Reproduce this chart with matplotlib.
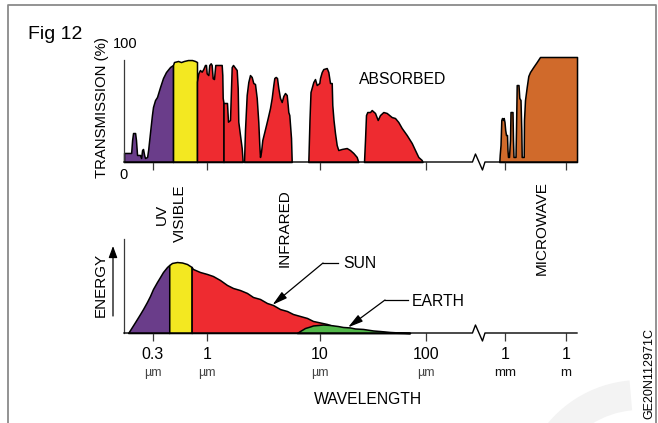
import numpy as np
import matplotlib
matplotlib.use("Agg")
import matplotlib.pyplot as plt
import matplotlib.transforms as mtransforms
from matplotlib.lines import Line2D
from matplotlib.patches import Wedge, FancyArrowPatch

plt.rcParams['font.family'] = ['Liberation Sans', 'DejaVu Sans']

# ---------------- data ----------------
# Atmospheric transmission (%) against wavelength (micrometres)
uv_wl = [0.157, 0.184, 0.188, 0.192, 0.201, 0.205, 0.210, 0.224, 0.230, 0.235,
         0.240, 0.246, 0.251, 0.263, 0.269, 0.281, 0.293, 0.300, 0.314, 0.328,
         0.351, 0.375, 0.401, 0.439, 0.469]
uv_trans = [8.6, 8.6, 21.0, 27.6, 27.6, 21.0, 6.7, 6.7, 3.8, 11.4,
            12.4, 6.7, 3.8, 4.8, 11.4, 28.6, 44.8, 52.4, 59.0, 61.9,
            71.4, 80.0, 85.7, 90.5, 92.4]

vis_wl = [0.469, 0.479, 0.524, 0.560, 0.598, 0.654, 0.716, 0.766, 0.800]
vis_trans = [92.4, 95.2, 96.2, 95.2, 96.2, 97.1, 97.1, 96.2, 95.2]

ir1_wl = [0.800, 0.823, 0.855, 0.888, 0.920, 0.956, 0.977, 0.993, 1.027, 1.048,
          1.078, 1.100, 1.123, 1.153, 1.184, 1.218, 1.349, 1.366, 1.377, 1.400]
ir1_trans = [76.5, 84.4, 87.6, 86.0, 88.5, 92.4, 92.4, 84.4, 82.8, 92.4,
             94.0, 92.4, 79.7, 79.0, 92.4, 92.4, 92.4, 82.8, 61.0, 56.2]

ir2_wl = [1.400, 1.503, 1.534, 1.598, 1.654, 1.699, 1.832, 1.869, 1.892, 1.959,
          2.028, 2.070]
ir2_trans = [56.2, 56.2, 38.4, 40.0, 90.4, 92.4, 87.6, 70.4, 38.4, 25.7, 13.3, 0.0]

ir3_wl = [2.126, 2.169, 2.245, 2.320, 2.401, 2.486, 2.569, 2.659, 2.754, 2.844,
          2.903, 2.944, 3.005, 3.086, 3.215, 3.328, 3.445, 3.610, 3.738, 3.862,
          3.942, 4.055, 4.164, 4.276, 4.426, 4.582, 4.734, 4.901, 5.074, 5.178,
          5.242, 5.350, 5.540, 5.619]
ir3_trans = [0.0, 30.5, 63.8, 76.2, 82.8, 81.0, 75.2, 74.3, 61.0, 38.1,
             16.2, 4.8, 9.5, 20.9, 28.6, 35.2, 41.9, 51.4, 61.0, 73.3,
             80.0, 81.0, 80.0, 70.4, 61.0, 57.1, 62.8, 65.7, 63.8, 54.3,
             47.6, 44.7, 22.8, 0.0]

ir4_wl = [7.881, 8.07, 8.24, 8.725, 9.03, 9.35, 9.86, 10.0, 10.38, 10.74,
          11.57, 11.98, 12.43, 12.90, 13.06, 13.41, 13.85, 14.37, 14.88, 16.02,
          17.86, 19.19, 20.62, 22.20, 22.98]
ir4_trans = [0.0, 40.0, 66.6, 76.2, 79.0, 73.3, 75.2, 80.0, 85.7, 88.5,
             89.5, 85.7, 75.2, 75.2, 54.3, 40.0, 27.6, 16.2, 11.4, 12.4,
             13.3, 11.4, 8.6, 4.8, 0.0]

ir5_wl = [26.01, 26.58, 27.16, 27.94, 29.64, 30.75, 33.03, 35.03, 36.81, 39.56,
          42.58, 47.47, 51.00, 54.79, 58.99, 65.77, 73.32, 78.76, 84.61, 91.08,
          92.68]
ir5_trans = [0.0, 20.9, 44.7, 47.6, 47.6, 49.5, 46.7, 40.0, 44.7, 47.6,
             46.7, 42.8, 41.9, 38.1, 32.4, 25.7, 18.1, 11.4, 4.8, 1.9, 0.0]

mw_wl = [777, 791, 820, 849, 876, 915, 944, 978, 1023, 1120,
         1254, 1327, 1404, 1573, 1762, 1865, 2338, 2475, 2619, 3285,
         3476, 3763, 4613, 5051, 5786, 6336, 6629, 8313, 8603, 9634,
         11680, 14000, 16970, 24660, 36250, 52680, 3.48e6]
mw_trans = [0.0, 6.7, 16.2, 40.0, 41.9, 40.0, 41.9, 38.1, 30.5, 25.7,
            25.7, 11.4, 4.8, 4.8, 21.0, 47.6, 47.6, 21.0, 4.8, 4.8,
            30.5, 73.3, 73.3, 61.0, 59.0, 30.5, 4.8, 4.8, 40.0, 59.0,
            71.4, 81.9, 85.7, 90.5, 95.2, 100.0, 100.0]

# Emitted energy (arbitrary units) against wavelength (micrometres)
sun_wl = [0.172, 0.1796, 0.201, 0.2245, 0.240, 0.262, 0.2805, 0.300, 0.328, 0.351,
          0.375, 0.410, 0.431, 0.458, 0.512, 0.5725, 0.640, 0.710, 0.731, 0.855,
          1.0, 1.13, 1.303, 1.503, 1.699, 1.959, 2.259, 2.553, 2.944, 3.396,
          3.838, 4.426, 5.105, 5.768, 6.653, 7.674, 8.670, 10.0, 11.64, 13.27,
          16.48, 20.48, 26.58, 36.81, 51.0, 70.6]
sun_energy = [0.0, 3.2, 11.7, 20.2, 25.5, 33.0, 39.4, 46.8, 54.3, 59.6,
              64.9, 70.2, 72.3, 74.5, 75.5, 75.0, 73.4, 70.2, 68.1, 64.9,
              62.8, 60.6, 56.4, 51.1, 47.9, 45.7, 42.6, 38.3, 36.2, 31.9,
              29.8, 25.5, 23.4, 20.2, 18.1, 16.0, 12.8, 11.2, 9.6, 7.4,
              5.3, 3.7, 2.1, 1.1, 0.3, 0.0]
sun_band_edges = [0.431, 0.710]          # UV | visible | infrared

earth_wl = [6.26, 6.653, 7.366, 8.155, 8.670, 9.60, 10.67, 12.43, 14.78, 16.48,
            19.19, 21.39, 25.45, 31.62, 36.81, 45.76, 56.84, 70.6]
earth_energy = [0.0, 2.1, 5.3, 6.9, 8.0, 8.5, 9.0, 8.5, 7.4, 6.4,
                5.9, 4.8, 4.3, 2.7, 2.1, 1.1, 0.5, 0.0]

tick_wl = [0.3, 1, 10, 100, 1000, 1e6]
tick_num = ['0.3', '1', '10', '100', '1', '1']
tick_unit = ['\u00b5m', '\u00b5m', '\u00b5m', '\u00b5m', 'mm', 'm']
break_wl = 316.0
sun_pointer_wl = 3.8
earth_pointer_wl = 18.4

# ---------------- colours ----------------
C_UV = '#6a3d8a'
C_VIS = '#f3e821'
C_IR = '#ee2b30'
C_MW = '#d06a2b'
C_EARTH = '#52b84a'

# ---------------- broken logarithmic wavelength scale ----------------
knot_log = np.array([-2.0, np.log10(0.3), 0.0, 1.0, 2.0, 2.5, 3.0, 6.0, 8.0])
knot_pos = np.array([1.0, 153.0, 207.0, 320.0, 426.0, 479.0, 505.0, 566.0, 606.7])


def wl_forward(w):
    w = np.asarray(w, dtype=float)
    return np.interp(np.log10(np.clip(w, 1e-12, None)), knot_log, knot_pos)


def wl_inverse(u):
    u = np.asarray(u, dtype=float)
    return 10.0 ** np.interp(u, knot_pos, knot_log)


W, H = 658, 423
fig = plt.figure(figsize=(W / 100, H / 100), dpi=100)
fig.patch.set_facecolor('white')


def fx(x):
    return x / W


def fy(y):
    return 1 - y / H


AX_L, AX_R = 124, 577
ax_t = fig.add_axes([fx(AX_L), fy(162), (AX_R - AX_L) / W, 105 / H])
ax_b = fig.add_axes([fx(AX_L), fy(333), (AX_R - AX_L) / W, 94 / H])

for ax in (ax_t, ax_b):
    ax.set_xscale('function', functions=(wl_forward, wl_inverse))
    ax.set_xlim(wl_inverse(AX_L), wl_inverse(AX_R))
    ax.set_ylim(0, 100)
    ax.patch.set_alpha(0)
    for s in ('top', 'right', 'bottom'):
        ax.spines[s].set_visible(False)
    ax.spines['left'].set_color('#3a3a3a')
    ax.spines['left'].set_linewidth(0.9)
    ax.set_yticks([])
    ax.set_xticks(tick_wl)
    ax.xaxis.set_minor_locator(matplotlib.ticker.NullLocator())
    ax.tick_params(axis='x', direction='out', length=5.8, width=0.9,
                   color='#3a3a3a', pad=4.3)

ax_t.spines['left'].set_bounds(0, 97)
ax_t.tick_params(axis='x', labelbottom=False)
ax_b.set_xticklabels(tick_num, fontsize=11.5)

# ---- transmission bands ----
edge = dict(edgecolor='black', linewidth=1.1, clip_on=False)
ax_t.fill_between(uv_wl, uv_trans, 0, facecolor=C_UV, **edge)
ax_t.fill_between(vis_wl, vis_trans, 0, facecolor=C_VIS, **edge)
for bw, bt in ((ir1_wl, ir1_trans), (ir2_wl, ir2_trans), (ir3_wl, ir3_trans),
               (ir4_wl, ir4_trans), (ir5_wl, ir5_trans)):
    ax_t.fill_between(bw, bt, 0, facecolor=C_IR, **edge)
ax_t.fill_between(mw_wl, mw_trans, 0, facecolor=C_MW, **edge)

# ---- emission curves ----
sw = np.array(sun_wl)
se = np.array(sun_energy)
m_uv = sw <= sun_band_edges[0]
m_vis = (sw >= sun_band_edges[0]) & (sw <= sun_band_edges[1])
m_ir = sw >= sun_band_edges[1]
ax_b.fill_between(sw[m_uv], se[m_uv], 0, facecolor=C_UV, **edge)
ax_b.fill_between(sw[m_vis], se[m_vis], 0, facecolor=C_VIS, **edge)
ax_b.fill_between(sw[m_ir], se[m_ir], 0, facecolor=C_IR, **edge)
ax_b.fill_between(earth_wl, earth_energy, 0, facecolor=C_EARTH, **edge)

# ---- baselines with a scale break ----
k = fig.dpi / 100.0


def draw_baseline(ax):
    p0 = ax.transAxes.transform((0, 0))
    p1 = ax.transAxes.transform((1, 0))
    xb = ax.transData.transform((break_wl, 1))[0]
    zx = np.array([-6.5, -3.5, 3.5, 6.0]) * k
    zy = np.array([0.0, 8.0, -8.0, 0.0]) * k
    xs = np.concatenate([[p0[0]], xb + zx, [p1[0]]])
    ys = np.concatenate([[p0[1]], p0[1] + zy, [p0[1]]])
    fig.add_artist(Line2D(xs, ys, transform=mtransforms.IdentityTransform(),
                          color='black', lw=1.0, zorder=5))


draw_baseline(ax_t)
draw_baseline(ax_b)

# ---- unit labels under the wavelength ticks ----
for w, u in zip(tick_wl, tick_unit):
    ax_b.annotate(u, xy=(w, 0), xycoords=('data', 'axes fraction'),
                  xytext=(0, -40 * k), textcoords='offset pixels',
                  ha='center', va='center', fontsize=9.5 if u != '\u00b5m' else 9,
                  color='#111111' if u != '\u00b5m' else '#444444')

# ---- axis titles and labels ----
fig.text(fx(28), fy(39), 'Fig 12', fontsize=14, ha='left', va='baseline')
fig.text(fx(102), fy(108), 'TRANSMISSION (%)', rotation=90, fontsize=10.7,
         ha='center', va='center')
fig.text(fx(125), fy(44), '100', fontsize=10.5, ha='center', va='center')
fig.text(fx(123), fy(175), '0', fontsize=10.5, ha='center', va='center')
fig.text(fx(403), fy(79), 'ABSORBED', fontsize=11.3, ha='center', va='center')

for label, x, yb in (('UV', 162, 225), ('VISIBLE', 180, 242),
                     ('INFRARED', 285, 267), ('MICROWAVE', 542, 275)):
    fig.text(fx(x), fy(yb), label, rotation=90, fontsize=11,
             ha='center', va='bottom')

fig.text(fx(101), fy(285), 'ENERGY', rotation=90, fontsize=11,
         ha='center', va='center')
fig.add_artist(FancyArrowPatch(
    (fx(113), fy(316)), (fx(113), fy(246)), transform=fig.transFigure,
    arrowstyle='-|>,head_length=7,head_width=2.6', mutation_scale=1,
    color='black', lw=0.9, shrinkA=0, shrinkB=0))

fig.text(fx(368), fy(399), 'WAVELENGTH', fontsize=11.3, ha='center', va='center')
fig.text(fx(649), fy(373), 'GE20N112971C', rotation=90, fontsize=9,
         ha='center', va='center')

# ---- SUN / EARTH pointers ----
arrow_kw = dict(arrowstyle='-|>,head_length=9,head_width=2.4', mutation_scale=1,
                color='black', lw=0.9, shrinkA=0, shrinkB=0)
sun_tip = np.interp(np.log10(sun_pointer_wl), np.log10(sun_wl), sun_energy)
earth_tip = np.interp(np.log10(earth_pointer_wl), np.log10(earth_wl), earth_energy)

ax_b.annotate('', xy=(sun_pointer_wl, sun_tip), xycoords='data',
              xytext=(fx(323), fy(263)), textcoords='figure fraction',
              arrowprops=arrow_kw)
fig.add_artist(Line2D([fx(323), fx(338)], [fy(263), fy(263)],
                      transform=fig.transFigure, color='black', lw=0.9))
fig.text(fx(343), fy(264), 'SUN', fontsize=11.3, ha='left', va='center')

ax_b.annotate('', xy=(earth_pointer_wl, earth_tip), xycoords='data',
              xytext=(fx(385), fy(300)), textcoords='figure fraction',
              arrowprops=arrow_kw)
fig.add_artist(Line2D([fx(385), fx(408)], [fy(300), fy(300)],
                      transform=fig.transFigure, color='black', lw=0.9))
fig.text(fx(412), fy(301), 'EARTH', fontsize=11.3, ha='left', va='center')

# ---- page frame and faint background mark (drawn in pixel units) ----
fig.add_artist(Wedge((640 * k, (H - 500) * k), 120 * k, 95, 150, width=30 * k,
                     transform=mtransforms.IdentityTransform(),
                     facecolor='#f3f3f3', edgecolor='none', zorder=-1))
fig.add_artist(Line2D([fx(8), fx(8), fx(656), fx(656)],
                      [fy(430), fy(5), fy(5), fy(430)],
                      transform=fig.transFigure, color='#8a8a8a', lw=1.3))

fig.savefig('out.png', dpi=100)
